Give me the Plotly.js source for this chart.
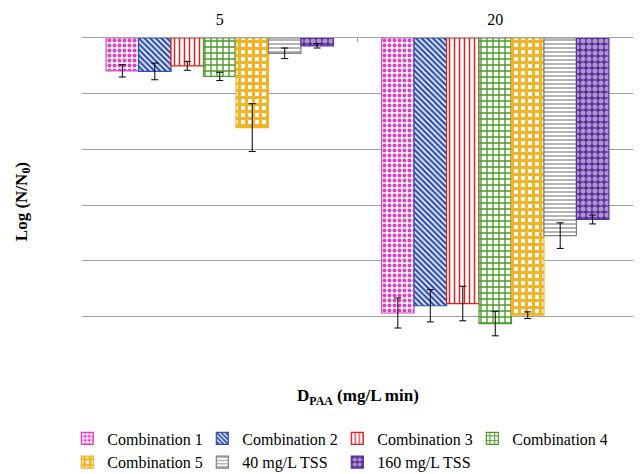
<!DOCTYPE html>
<html><head><meta charset="utf-8">
<script src="https://cdn.plot.ly/plotly-3.0.1.min.js"></script>
<style>html,body{margin:0;padding:0;background:#fff}#c{width:641px;height:474px}</style>
</head><body><div id="c"></div>
<script>
const categories = ["5", "20"];
const seriesNames = ["Combination 1", "Combination 2", "Combination 3", "Combination 4", "Combination 5", "40 mg/L TSS", "160 mg/L TSS"];
const comb1 = [-0.59, -4.94];
const comb2 = [-0.60, -4.81];
const comb3 = [-0.50, -4.77];
const comb4 = [-0.69, -5.13];
const comb5 = [-1.61, -4.98];
const tss40 = [-0.275, -3.55];
const tss160 = [-0.14, -3.26];
const err1 = [0.11, 0.27];
const err2 = [0.15, 0.29];
const err3 = [0.08, 0.31];
const err4 = [0.075, 0.22];
const err5 = [0.43, 0.06];
const err40 = [0.095, 0.23];
const err160 = [0.04, 0.08];

const values = [comb1, comb2, comb3, comb4, comb5, tss40, tss160];
const errors = [err1, err2, err3, err4, err5, err40, err160];
const styles = [
  {line: "#E040C8", color: "#ffffff", fg: "#E040C8", bg: "#ffffff", shape: ".", size: 5, sol: 0.5, mode: "replace"},
  {line: "#2F4FB0", color: "#ffffff", fg: "#2F4FB0", bg: "#ffffff", shape: "\\", size: 4, sol: 0.6, mode: "replace"},
  {line: "#E02020", color: "#ffffff", fg: "#E02020", bg: "#ffffff", shape: "|", size: 5, sol: 0.3, mode: "replace"},
  {line: "#4A9A2A", color: "#ffffff", fg: "#4A9A2A", bg: "#ffffff", shape: "+", size: 6, sol: 0.4, mode: "replace"},
  {line: "#F0B428", color: "#ffffff", fg: "#F0B428", bg: "#ffffff", shape: "+", size: 7, sol: 0.7, mode: "replace"},
  {line: "#808080", color: "#ffffff", fg: "#808080", bg: "#ffffff", shape: "-", size: 4, sol: 0.3, mode: "replace"},
  {line: "#5B2C9A", color: "#5B2C9A", fg: "#ffffff", bg: "#5B2C9A", shape: ".", size: 6, sol: 0.55, mode: "overlay"}
];

const traces = seriesNames.map((n, i) => ({
  type: "bar",
  name: n,
  x: categories,
  y: values[i],
  error_y: {type: "data", array: errors[i], visible: true, color: "#000", thickness: 1, width: 3.5},
  marker: {
    color: styles[i].color,
    line: {color: styles[i].line, width: 1.2},
    pattern: {shape: styles[i].shape, fgcolor: styles[i].fg, bgcolor: styles[i].bg, size: styles[i].size, solidity: styles[i].sol, fillmode: styles[i].mode}
  }
}));

const serif = "'Liberation Serif', 'Times New Roman', serif";
const layout = {
  width: 641, height: 474,
  margin: {l: 82, r: 8, t: 38, b: 102, autoexpand: false},
  paper_bgcolor: "#fff", plot_bgcolor: "#fff",
  font: {family: serif, size: 16, color: "#000"},
  barmode: "group", bargap: 0.175, bargroupgap: 0,
  showlegend: true,
  legend: {orientation: "h", xref: "container", yref: "container", x: 0.105, xanchor: "left", y: 0.111, yanchor: "top", entrywidth: 90, entrywidthmode: "pixels", itemwidth: 30, font: {family: serif, size: 16}, traceorder: "normal", tracegroupgap: 0},
  xaxis: {side: "top", type: "category", showline: true, linecolor: "#a0a0a0", linewidth: 1, ticks: "inside", ticklen: 4, tickcolor: "#a0a0a0", tickson: "boundaries", ticklabelstandoff: 6, showgrid: false, tickfont: {family: serif, size: 16}, fixedrange: true},
  yaxis: {range: [-6, 0], dtick: 1, showticklabels: false, ticks: "", showgrid: true, gridcolor: "#a0a0a0", gridwidth: 1, zeroline: false, showline: false, fixedrange: true},
  annotations: [
    {text: "<b>D<sub>PAA</sub> (mg/L min)</b>", xref: "paper", yref: "paper", x: 0.5, y: -0.075, xanchor: "center", yanchor: "middle", showarrow: false, font: {family: serif, size: 17}},
    {text: "<b>Log (N/N<sub>0</sub>)</b>", xref: "paper", yref: "paper", x: -0.108, y: 0.51, xanchor: "center", yanchor: "middle", textangle: -90, showarrow: false, font: {family: serif, size: 17}}
  ]
};

Plotly.newPlot("c", traces, layout, {displayModeBar: false, staticPlot: true});
</script></body></html>
